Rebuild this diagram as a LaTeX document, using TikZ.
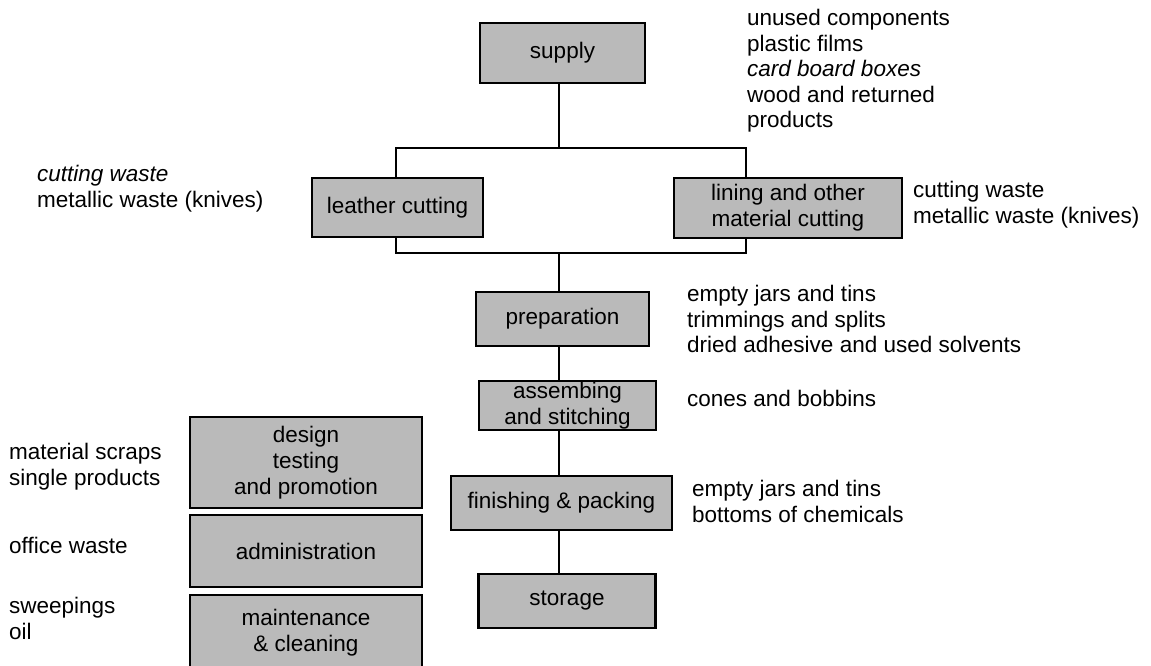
\documentclass[tikz,border=0pt]{standalone}
\usepackage{fontspec}
\setmainfont{Liberation Sans}
\begin{document}
\begin{tikzpicture}[x=1pt,y=-1pt,
  procbox/.style={draw=black, line width=2.2pt, fill=black!27, inner sep=0pt, align=center,
    font=\fontsize{22.5pt}{26pt}\selectfont},
  wastetext/.style={anchor=west, inner sep=0pt, align=left,
    font=\fontsize{22.5pt}{25.5pt}\selectfont},
  conn/.style={line width=2pt, draw=black}]
\useasboundingbox (0,0) rectangle (1151,665);
\begin{scope}
\clip (0,0) rectangle (1151,665);
% process boxes
\node[procbox, minimum width=165pt, minimum height=60pt] (supply) at (562.5,53) {supply};
\node[procbox, minimum width=171pt, minimum height=59pt] (leather) at (397.5,207.5) {leather cutting};
\node[procbox, minimum width=228pt, minimum height=60pt] (lining) at (788,208) {lining and other\\material cutting};
\node[procbox, minimum width=173pt, minimum height=54pt] (prep) at (562.5,319) {preparation};
\node[procbox, minimum width=177pt, minimum height=49pt] (assem) at (567.5,405.5) {assembing\\and stitching};
\node[procbox, minimum width=221pt, minimum height=54pt] (finish) at (561.5,503) {finishing \& packing};
\node[procbox, minimum width=177pt, minimum height=54pt] (storage) at (567,601) {storage};
\node[procbox, minimum width=232pt, minimum height=91pt] (design) at (306,462.5) {design\\testing\\and promotion};
\node[procbox, minimum width=232pt, minimum height=72pt] (admin) at (306,551) {administration};
\node[procbox, minimum width=232pt, minimum height=75pt] (maint) at (306,632.5) {maintenance\\\& cleaning};
% connector points
\coordinate (splitL) at (396,148);
\coordinate (splitC) at (559,148);
\coordinate (splitR) at (746,148);
\coordinate (mergeL) at (396,253);
\coordinate (mergeC) at (559,253);
\coordinate (mergeR) at (746,253);
% connectors
\draw[conn] (supply.south -| splitC) -- (splitC);
\draw[conn] (splitL |- leather.north) -- (splitL) -- (splitR) -- (splitR |- lining.north);
\draw[conn] (mergeL |- leather.south) -- (mergeL) -- (mergeR) -- (mergeR |- lining.south);
\draw[conn] (mergeC) -- (mergeC |- prep.north);
\draw[conn] (prep.south -| mergeC) -- (assem.north -| mergeC);
\draw[conn] (assem.south -| mergeC) -- (finish.north -| mergeC);
\draw[conn] (finish.south -| mergeC) -- (storage.north -| mergeC);
% waste texts
\node[wastetext] (tsupply) at (747,71) {unused components\\plastic films\\\textit{card board boxes}\\wood and returned\\products};
\node[wastetext] (tleather) at (37,188.5) {\textit{cutting waste}\\metallic waste (knives)};
\node[wastetext] (tlining) at (913,204.5) {cutting waste\\metallic waste (knives)};
\node[wastetext] (tprep) at (687,319) {empty jars and tins\\trimmings and splits\\dried adhesive and used solvents};
\node[wastetext] (tassem) at (687,398) {cones and bobbins};
\node[wastetext] (tfinish) at (692,501.5) {empty jars and tins\\bottoms of chemicals};
\node[wastetext] (tdesign) at (9,466.5) {material scraps\\single products};
\node[wastetext] (tadmin) at (9,545) {office waste};
\node[wastetext] (tmaint) at (9,618.5) {sweepings\\oil};
\end{scope}
\end{tikzpicture}
\end{document}
